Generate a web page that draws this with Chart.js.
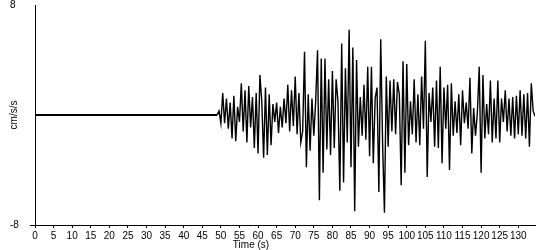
<!DOCTYPE html>
<html>
<head>
<meta charset="utf-8">
<script src="https://cdn.jsdelivr.net/npm/chart.js@4/dist/chart.umd.min.js"></script>
<style>
  html,body{margin:0;padding:0;background:#fff;}
  #wrap{width:550px;height:250px;}
</style>
</head>
<body>
<div id="wrap"><canvas id="accelChart"></canvas></div>
<script>
/* =========================================================
   DATA
========================================================= */

const quietTime = [0, 49];
const quietAccel = [0, 0];

/* record samples every 0.5 s from 49 s */
const traceStart = 49;
const traceStep = 0.5;

const accel40s = [0.0, 0.3];
const accel50s = [-0.6, 1.6, -0.6, 1.2, -1.0, 0.9, -1.7, 1.4, -1.9, 0.6,
                  -0.5, 2.3, -1.2, 1.8, -2.0, 2.1, -0.9, 1.3, -2.4, 1.6];
const accel60s = [-2.8, 2.9, 1.0, -3.1, 2.0, -2.9, 1.5, -2.2, 0.8, -0.5,
                  0.9, -1.3, 0.6, -0.9, 1.2, -0.6, 2.2, -1.2, 1.8, -0.8];
const accel70s = [2.8, -1.4, 1.6, -2.0, -1.2, 4.6, -3.8, 1.5, -2.6, 1.2,
                  -1.5, 1.0, 4.7, -6.2, 4.1, -4.2, 4.1, -2.5, 2.6, -2.9];
const accel80s = [3.2, -2.4, 2.6, 1.0, -5.5, 5.2, -4.9, 3.4, -2.0, 6.2,
                  -3.8, 4.9, -7.0, 4.0, -2.3, 1.3, -1.5, 2.2, -1.8, 3.5];
const accel90s = [-3.0, 3.5, -3.5, 1.2, 2.0, -5.6, 5.5, -2.0, -7.1, 2.8,
                  -2.3, 2.5, -1.2, 2.6, -1.4, 2.4, 1.5, -5.1, 3.9, -4.2];
const accel100s = [3.7, -2.2, 1.0, -1.4, 2.6, -2.0, 1.5, -2.2, 2.8, -1.0,
                   5.4, -4.5, 1.6, -0.5, 2.0, -2.3, 2.5, -2.4, 3.5, -3.5];
const accel110s = [2.0, -1.0, 2.2, -4.0, 2.3, -1.5, 1.0, -1.3, 1.5, -2.2,
                   1.8, -0.6, 0.9, -1.0, 2.7, -2.8, 0.5, -1.5, 0.2, 3.5];
const accel120s = [-4.2, 2.9, -1.7, 0.8, -1.4, 2.5, -2.0, 1.2, -1.7, 2.5,
                   -2.0, 1.2, -0.5, 1.8, -1.2, 1.2, -1.5, 1.3, -1.7, 1.4];
const accel130s = [-1.4, 1.8, -1.5, 1.5, -1.7, 1.6, -2.3, 2.3, 0.3, -0.1];

const xTickValues = [0, 5, 10, 15, 20, 25, 30, 35, 40, 45, 50, 55, 60, 65,
                     70, 75, 80, 85, 90, 95, 100, 105, 110, 115, 120, 125, 130];
const yTickValues = [-8, 8];

const xTitle = "Time (s)";
const yTitle = "cm/s/s";

/* =========================================================
   BUILD POINTS
========================================================= */

const accel = [].concat(
  accel40s, accel50s, accel60s, accel70s, accel80s,
  accel90s, accel100s, accel110s, accel120s, accel130s
);

const tracePoints =
  accel.map((a, i) => ({ x: traceStart + i * traceStep, y: a }));

const quietPoints =
  quietTime.map((t, i) => ({ x: t, y: quietAccel[i] }));

const FONT = { family: "'Liberation Sans', Arial, sans-serif", size: 10 };

/* x title sits left of centre in the original, draw it by hand */
const xTitlePlugin = {
  id: "xTitle",
  afterDraw(chart){
    const c = chart.ctx;
    c.save();
    c.fillStyle = "#000";
    c.font = "10px 'Liberation Sans', Arial, sans-serif";
    c.textAlign = "center";
    c.textBaseline = "middle";
    c.fillText(xTitle, 251, 245);
    c.restore();
  }
};

/* =========================================================
   CHART
========================================================= */

const ctx =
  document.getElementById("accelChart").getContext("2d");

new Chart(ctx, {

  type: "line",

  data: {
    datasets: [
      {
        data: quietPoints,
        borderColor: "#000",
        borderWidth: 2,
        pointRadius: 0,
        tension: 0
      },
      {
        data: tracePoints,
        borderColor: "#000",
        borderWidth: 1.4,
        borderJoinStyle: "miter",
        pointRadius: 0,
        tension: 0
      }
    ]
  },

  options: {
    responsive: true,
    maintainAspectRatio: false,
    animation: false,
    layout: {
      padding: { left: 10, right: 15, top: 5, bottom: 0 }
    },
    plugins: {
      legend: { display: false },
      tooltip: { enabled: false }
    },
    scales: {

      x: {
        type: "linear",
        min: 0,
        max: 134.5,
        afterBuildTicks(s){
          s.ticks = xTickValues.map(v => ({ value: v }));
        },
        afterFit(s){
          s.height = 25;
          s.paddingLeft = 0;
          s.paddingRight = 0;
        },
        border: { color: "#000", width: 1 },
        grid: {
          drawOnChartArea: false,
          drawTicks: true,
          tickLength: 3,
          color: "#000"
        },
        ticks: {
          autoSkip: false,
          maxRotation: 0,
          padding: 2,
          color: "#000",
          font: FONT
        }
      },

      y: {
        min: -8,
        max: 8,
        afterBuildTicks(s){
          s.ticks = yTickValues.map(v => ({ value: v }));
        },
        afterFit(s){
          s.width = 25;
          s.paddingTop = 0;
          s.paddingBottom = 0;
        },
        border: { color: "#000", width: 1 },
        grid: {
          drawOnChartArea: false,
          drawTicks: true,
          tickLength: 5,
          color: (c) => c.tick && c.tick.value === -8 ? "#000" : "rgba(0,0,0,0)"
        },
        title: {
          display: true,
          text: yTitle,
          color: "#000",
          font: FONT,
          padding: { top: -2, bottom: 0 }
        },
        ticks: {
          crossAlign: "far",
          color: "#000",
          font: FONT
        }
      }

    }
  },

  plugins: [xTitlePlugin]

});
</script>
</body>
</html>
